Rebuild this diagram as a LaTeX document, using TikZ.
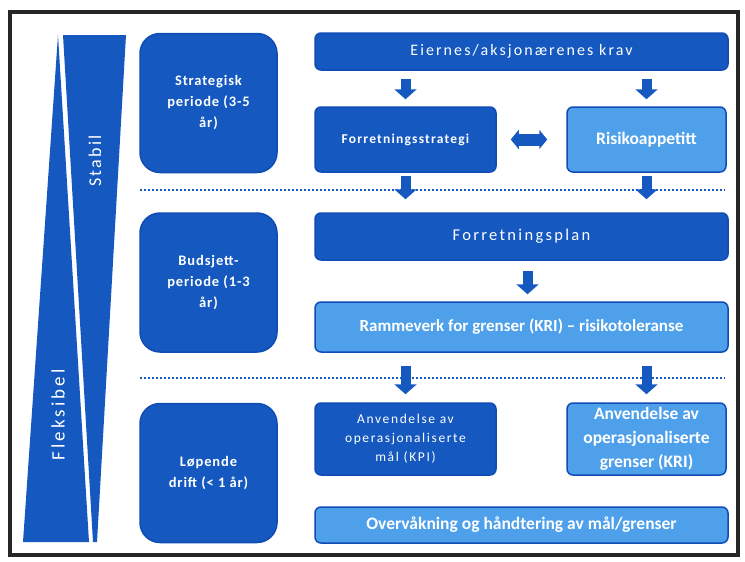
\documentclass[tikz,border=0pt]{standalone}
\usepackage{fontspec}
\setmainfont{Carlito}
\usetikzlibrary{arrows.meta}

\definecolor{morkbla}{RGB}{20,88,192}
\definecolor{lysbla}{RGB}{78,160,234}
\definecolor{kantbla}{RGB}{16,76,180}

\begin{document}
\begin{tikzpicture}[x=1pt,y=-1pt,
    boks/.style={draw=kantbla, line width=1.5pt, fill=morkbla, text=white, rounded corners=6pt, align=center, inner sep=0pt},
    lysboks/.style={boks, fill=lysbla, font=\bfseries},
    periode/.style={boks, rounded corners=20pt, minimum width=137pt, minimum height=139pt, font=\bfseries\fontsize{14.5}{21}\selectfont\addfontfeatures{LetterSpace=6}},
    blokkpil/.style={draw=morkbla, line width=10pt, -{Triangle[width=22pt,length=10pt]}},
    dobbelpil/.style={draw=morkbla, line width=12pt, {Triangle[width=19pt,length=8pt]}-{Triangle[width=19pt,length=8pt]}},
    skille/.style={morkbla, line width=2pt, dash pattern=on 2pt off 2pt}]
  \useasboundingbox (0,0) rectangle (745,562);

  % Ramme
  \draw[line width=4pt, black!85] (10,12) rectangle (738,555);

  % Kile: fleksibel / stabil
  \fill[morkbla] (58,35) -- (23,542) -- (89,542) -- cycle;
  \fill[morkbla] (63,35) -- (126,35) -- (97,542) -- (93,542) -- cycle;
  \node[rotate=90, text=white, font=\fontsize{19}{19}\selectfont\addfontfeatures{LetterSpace=16}] (fleks) at (58,415) {Fleksibel};
  \node[rotate=90, text=white, font=\fontsize{18}{18}\selectfont\addfontfeatures{LetterSpace=12}] (stabil) at (95,161) {Stabil};

  % Perioder
  \node[periode] (strategisk) at (208.5,103) {Strategisk\\periode (3-5\\år)};
  \node[periode] (budsjett) at (208.5,282.5) {Budsjett-\\periode (1-3\\år)};
  \node[periode] (lopende) at (208.5,473) {Løpende\\drift (< 1 år)};

  % Strategisk nivå
  \node[boks, minimum width=413pt, minimum height=37pt, font=\fontsize{16}{16}\selectfont\addfontfeatures{LetterSpace=13}] (krav) at (521.5,51.5) {Eiernes/aksjonærenes krav};
  \node[boks, minimum width=181pt, minimum height=65pt, font=\bfseries\fontsize{13.5}{13.5}\selectfont\addfontfeatures{LetterSpace=9}] (strategi) at (405.5,139.5) {Forretningsstrategi};
  \node[lysboks, minimum width=159pt, minimum height=65pt, font=\bfseries\fontsize{17.5}{17.5}\selectfont] (appetitt) at (646.5,139.5) {Risikoappetitt};

  % Budsjettnivå
  \node[boks, minimum width=413pt, minimum height=47pt, font=\fontsize{16.5}{16.5}\selectfont\addfontfeatures{LetterSpace=14}] (plan) at (521.5,236.5) {Forretningsplan};
  \node[lysboks, minimum width=413pt, minimum height=50pt, font=\bfseries\fontsize{17}{17}\selectfont] (rammeverk) at (521.5,327) {Rammeverk for grenser (KRI) – risikotoleranse};

  % Løpende drift
  \node[boks, minimum width=181pt, minimum height=72pt, font=\fontsize{13.5}{19}\selectfont\addfontfeatures{LetterSpace=12}] (kpi) at (405.5,439) {Anvendelse av\\operasjonaliserte\\mål (KPI)};
  \node[lysboks, minimum width=159pt, minimum height=72pt, font=\bfseries\fontsize{17.5}{24}\selectfont] (kri) at (646.5,439) {Anvendelse av\\operasjonaliserte\\grenser (KRI)};
  \node[lysboks, minimum width=413pt, minimum height=36pt, font=\bfseries\fontsize{17.5}{17.5}\selectfont] (overvaking) at (521.5,525) {Overvåkning og håndtering av mål/grenser};

  % Skillelinjer
  \draw[skille] (140,190) -- (725,190);
  \draw[skille] (140,378) -- (725,378);

  % Piler
  \draw[blokkpil, shorten <=8pt, shorten >=7pt] (strategi.north |- krav.south) -- (strategi.north);
  \draw[blokkpil, shorten <=8pt, shorten >=7pt] (appetitt.north |- krav.south) -- (appetitt.north);
  \draw[dobbelpil, shorten <=14pt, shorten >=19pt] (strategi.east) -- (appetitt.west);
  \draw[blokkpil, shorten <=3pt, shorten >=13pt] (strategi.south) -- (strategi.south |- plan.north);
  \draw[blokkpil, shorten <=3pt, shorten >=13pt] (appetitt.south) -- (appetitt.south |- plan.north);
  \draw[blokkpil, shorten <=10pt, shorten >=7pt] ([xshift=6pt]plan.south) -- ([xshift=6pt]rammeverk.north);
  \draw[blokkpil, shorten <=13pt, shorten >=8pt] (kpi.north |- rammeverk.south) -- (kpi.north);
  \draw[blokkpil, shorten <=13pt, shorten >=8pt] (kri.north |- rammeverk.south) -- (kri.north);
\end{tikzpicture}
\end{document}
